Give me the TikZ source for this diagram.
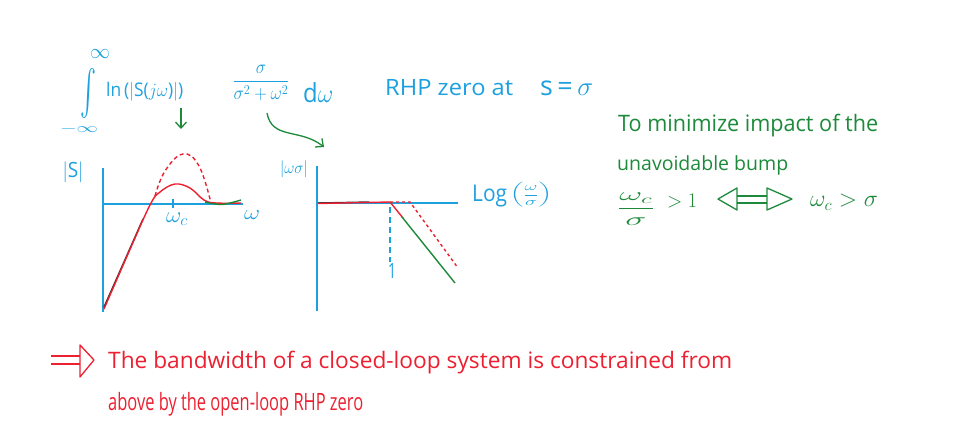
\RequirePackage{fix-cm}
\documentclass[tikz,border=0pt]{standalone}
\usepackage{graphicx}
\usepackage{amsmath}
\usepackage{fontspec}
\setmainfont{Open Sans}
\usetikzlibrary{arrows.meta}
\definecolor{cblue}{RGB}{29,160,222}
\definecolor{cgreen}{RGB}{28,138,58}
\definecolor{cred}{RGB}{236,32,48}
\newcommand\fitbox[3]{\resizebox*{#1pt}{#2pt}{#3}}
\newcommand\fitw[3]{\resizebox{#1pt}{!}{\scalebox{1}[#2]{#3}}}
\begin{document}
\begin{tikzpicture}[x=1pt,y=-1pt,
  txt/.style={inner sep=0pt, anchor=west},
  bluet/.style={txt, text=cblue, font=\fontsize{19}{22}\selectfont},
  greent/.style={txt, text=cgreen, font=\fontsize{18}{22}\selectfont},
  redt/.style={txt, text=cred, font=\fontsize{18.5}{22}\selectfont},
  axis/.style={draw=cblue, line width=1.6pt},
  garrow/.style={draw=cgreen, line width=1.3pt, -{Straight Barb[length=6pt,width=11pt]}},
  curve/.style={line width=1.4pt}]
\useasboundingbox (0,0) rectangle (967,426);

% integral
\node[bluet, anchor=center] (inf) at (100,54) {\fitbox{20}{9}{$\infty$}};
\node[bluet, anchor=center] (intg) at (88,93) {\fitbox{16}{50}{$\int$}};
\node[bluet, anchor=center] (minf) at (79,129) {\fitbox{38}{9}{$-\infty$}};
\node[bluet] (ln) at (106,92) {\fitbox{77}{19}{ln\,($|$S($j\omega$)$|$)}};
\node[bluet, anchor=center] (frac) at (261,83) {\fitbox{57}{36}{$\dfrac{\sigma}{\sigma^2+\omega^2}$}};
\node[bluet] (dw) at (303,92.5) {\fitw{30}{1.1}{d$\omega$}};
\node[bluet] (rhp) at (385,88) {\fitw{128}{0.95}{RHP zero at}};
\node[bluet] (rhps) at (540,88) {\fitw{53}{1.0}{s\,=\,$\sigma$}};

% green arrows
\coordinate (a1s) at (181,108);
\coordinate (a1e) at (181,129);
\draw[garrow] (a1s) -- (a1e);
\coordinate (a2s) at (267,113);
\coordinate (a2e) at (324,147);
\draw[garrow] (a2s) .. controls (272,140) and (300,128) .. (a2e);

% left plot
\node[bluet, anchor=center] (slab) at (73,172) {\fitbox{21}{21}{$|$S$|$}};
\node[bluet, anchor=center] (wlab) at (252,215) {\fitbox{16}{9}{$\omega$}};
\node[bluet, anchor=center] (wclab) at (177,219) {\fitbox{22}{13}{$\omega_c$}};
\draw[axis] (103,168) -- (103,312);
\draw[axis] (103,204) -- (243,204);
\draw[axis, line width=1.2pt] (173,199) -- (173,208);
\draw[curve, draw=black!80] (104,307) -- (143,219);
\draw[curve, draw=cred] plot[smooth, tension=0.6] coordinates {(104,309) (128,254) (150,205) (160,192) (175,184) (190,188) (204,200) (216,203) (241,203)};
\draw[curve, draw=cgreen] plot[smooth] coordinates {(205,202) (222,204.5) (241,200)};
\draw[curve, draw=cred, dash pattern=on 4pt off 3pt] plot[smooth, tension=0.7] coordinates {(155,196) (165,171) (183,154) (199,166) (211,203)};

% right plot
\node[bluet, anchor=center] (wslab) at (294,169) {\fitbox{28}{17}{$|\omega\sigma|$}};
\draw[axis] (317,166) -- (317,311);
\draw[axis] (317,203) -- (458,203);
\draw[curve, draw=black!80] (318,203) -- (369,202);
\draw[curve, draw=cred] (318,203.5) -- (390,202) -- (403,218);
\draw[curve, draw=cgreen] (402,217) -- (455,283);
\draw[curve, draw=cred, dash pattern=on 3pt off 3pt] (390,202) -- (410,202) -- (458,268);
\draw[draw=cblue, line width=1.3pt, dash pattern=on 6pt off 4pt] (390,207) -- (390,262);
\node[bluet, anchor=center] (one) at (392,271) {\fitbox{8}{15}{1}};
\node[bluet] (logl) at (472,196) {\fitw{35}{1.1}{Log}};
\node[bluet, anchor=center] (logf) at (531,195) {\fitbox{42}{25}{$\left(\dfrac{\omega}{\sigma}\right)$}};

% green note
\node[greent] (g1) at (618,125.5) {\fitw{260}{1.05}{To minimize impact of the}};
\node[greent] (g2) at (617,165) {\fitw{171}{1.0}{unavoidable bump}};
\node[greent, anchor=center] (g3f) at (636,209) {\fitbox{38}{32}{$\dfrac{\omega_c}{\sigma}$}};
\node[greent, anchor=center] (g3a) at (682,201) {\fitbox{30}{14}{$>1$}};
\draw[draw=cgreen, line width=1.3pt, line join=round] (718,199) -- (737,188) -- (737,210) -- cycle;
\draw[draw=cgreen, line width=1.3pt, line join=round] (792,199) -- (767,188) -- (767,210) -- cycle;
\draw[draw=cgreen, line width=1.3pt] (737,196) -- (767,196) (737,203) -- (767,203);
\node[greent, anchor=center] (g3b) at (844,202) {\fitbox{68}{16}{$\omega_c>\sigma$}};

% red conclusion
\draw[draw=cred, line width=1.3pt, line join=round] (80,345) -- (94,360) -- (80,377) -- cycle;
\draw[draw=cred, line width=1.3pt] (51,356) -- (80,356) (51,364) -- (80,364);
\node[redt] (r1) at (108,363) {\fitw{624}{1.0}{The bandwidth of a closed-loop system is constrained from}};
\node[redt] (r2) at (108,404) {\fitw{255}{1.45}{above by the open-loop RHP zero}};
\end{tikzpicture}
\end{document}
